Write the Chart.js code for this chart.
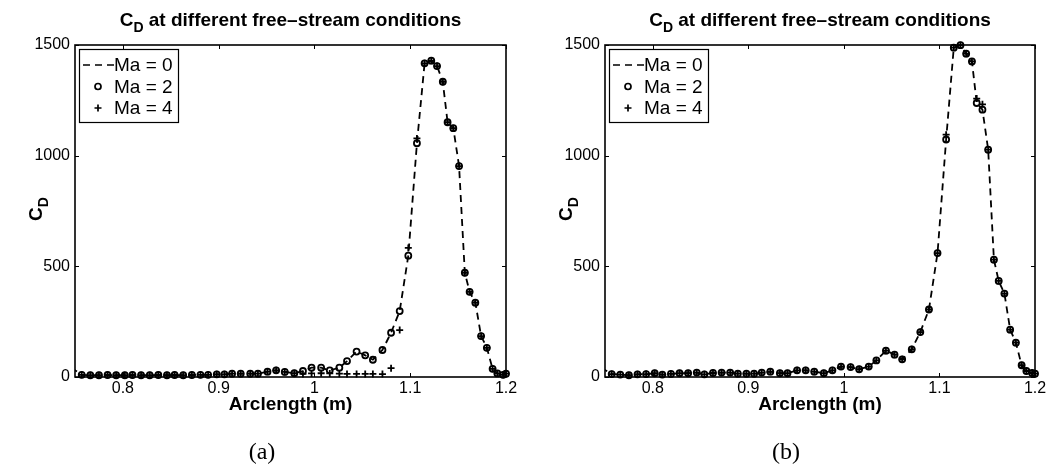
<!DOCTYPE html>
<html>
<head>
<meta charset="utf-8">
<script src="https://cdn.jsdelivr.net/npm/chart.js@4.4.0/dist/chart.umd.min.js"></script>
<style>
  html, body { margin: 0; padding: 0; background: #fff; }
  #wrap { position: relative; width: 1049px; height: 472px; overflow: hidden; }
  #chartA { position: absolute; left: 0; top: 0; }
  #chartB { position: absolute; left: 525px; top: 0; }
</style>
</head>
<body>
<div id="wrap">
  <canvas id="chartA" width="525" height="472"></canvas>
  <canvas id="chartB" width="524" height="472"></canvas>
</div>
<script>
// surface stations along the body (m); the first one sits just left of the plotted range
const arclength = [
  0.746,
  0.757, 0.766, 0.775, 0.784, 0.793, 0.802, 0.810, 0.819, 0.828, 0.837,
  0.846, 0.854, 0.863, 0.872, 0.881, 0.889, 0.898, 0.906, 0.914, 0.923,
  0.933, 0.941, 0.951, 0.960, 0.969, 0.979, 0.988, 0.997, 1.007, 1.016,
  1.026, 1.034, 1.044, 1.053, 1.061, 1.071, 1.080, 1.089, 1.098, 1.107,
  1.115, 1.122, 1.128, 1.134, 1.139, 1.145, 1.151, 1.157, 1.162, 1.168,
  1.174, 1.180, 1.186, 1.191, 1.197, 1.200
];

// (a)
const ma0A = [
  42,
  10, 8, 8, 9, 8, 8, 9, 8, 8, 9,
  8, 9, 8, 9, 10, 10, 12, 12, 15, 15,
  15, 15, 24, 30, 23, 17, 27, 42, 42, 30,
  42, 72, 115, 98, 78, 122, 200, 298, 548, 1056,
  1417, 1429, 1405, 1334, 1151, 1124, 953, 471, 385, 336,
  185, 132, 37, 16, 10, 15
];
const ma2A = [
  42,
  10, 8, 8, 9, 8, 8, 9, 8, 8, 9,
  8, 9, 8, 9, 10, 10, 12, 12, 15, 15,
  15, 15, 24, 30, 23, 17, 27, 42, 42, 30,
  42, 72, 115, 98, 78, 122, 200, 298, 548, 1056,
  1417, 1429, 1405, 1334, 1151, 1124, 953, 471, 385, 336,
  185, 132, 37, 16, 10, 15
];
const ma4A = [
  42,
  10, 8, 8, 9, 8, 8, 9, 8, 8, 9,
  8, 9, 8, 9, 10, 10, 12, 12, 15, 15,
  15, 15, 24, 30, 23, 17, 14, 16, 17, 16,
  15, 14, 14, 14, 14, 13, 40, 212, 583, 1078,
  1417, 1429, 1405, 1334, 1151, 1124, 953, 471, 385, 336,
  185, 132, 37, 16, 10, 15
];

// (b)
const ma0B = [
  42,
  13, 11, 8, 12, 13, 17, 11, 14, 17, 17,
  20, 12, 18, 20, 20, 15, 15, 15, 20, 24,
  17, 17, 30, 30, 24, 17, 30, 47, 45, 35,
  47, 75, 119, 101, 80, 125, 203, 305, 560, 1073,
  1488, 1499, 1461, 1426, 1238, 1208, 1027, 530, 434, 377,
  214, 155, 53, 27, 18, 15
];
const ma2B = [
  42,
  13, 11, 8, 12, 13, 17, 11, 14, 17, 17,
  20, 12, 18, 20, 20, 15, 15, 15, 20, 24,
  17, 17, 30, 30, 24, 17, 30, 47, 45, 35,
  47, 75, 119, 101, 80, 125, 203, 305, 560, 1073,
  1488, 1499, 1461, 1426, 1238, 1208, 1027, 530, 434, 377,
  214, 155, 53, 27, 18, 15
];
const ma4B = [
  42,
  13, 11, 8, 12, 13, 17, 11, 14, 17, 17,
  20, 12, 18, 20, 20, 15, 15, 15, 20, 24,
  17, 17, 30, 30, 24, 17, 30, 47, 45, 35,
  47, 75, 119, 101, 80, 125, 203, 305, 560, 1095,
  1488, 1499, 1461, 1426, 1258, 1232, 1027, 530, 434, 377,
  214, 155, 53, 27, 18, 15
];

const xTicks = [0.8, 0.9, 1, 1.1, 1.2];
const yTicks = [0, 500, 1000, 1500];
const legendLabels = ['Ma = 0', 'Ma = 2', 'Ma = 4'];

const FONT = '"Liberation Sans", Arial, Helvetica, sans-serif';
const SERIF = '"Liberation Serif", "Times New Roman", serif';

function series(ys) {
  return arclength.map((x, i) => ({ x: x, y: ys[i] }));
}

// C with a lowered D, as used in the title and the y label
function drawCD(ctx, rest, cx, base, big, small, drop) {
  ctx.font = big;
  const wC = ctx.measureText('C').width;
  const wR = rest ? ctx.measureText(rest).width : 0;
  ctx.font = small;
  const wD = ctx.measureText('D').width;
  let x = cx - (wC + wD + wR) / 2;
  ctx.textAlign = 'left';
  ctx.textBaseline = 'alphabetic';
  ctx.font = big;
  ctx.fillText('C', x, base);
  x += wC;
  ctx.font = small;
  ctx.fillText('D', x, base + drop);
  x += wD;
  if (rest) {
    ctx.font = big;
    ctx.fillText(rest, x, base);
  }
}

// box around the axes with inward tick marks on all four sides
const frame = {
  id: 'frame',
  afterDatasetsDraw(chart) {
    const { ctx, chartArea: a, scales } = chart;
    const tick = 4;
    ctx.save();
    ctx.strokeStyle = '#000';
    ctx.lineWidth = 1;
    ctx.beginPath();
    xTicks.forEach(v => {
      const px = Math.round(scales.x.getPixelForValue(v)) + 0.5;
      ctx.moveTo(px, a.bottom); ctx.lineTo(px, a.bottom - tick);
      ctx.moveTo(px, a.top); ctx.lineTo(px, a.top + tick);
    });
    yTicks.forEach(v => {
      const py = Math.round(scales.y.getPixelForValue(v)) + 0.5;
      ctx.moveTo(a.left, py); ctx.lineTo(a.left + tick, py);
      ctx.moveTo(a.right, py); ctx.lineTo(a.right - tick, py);
    });
    ctx.stroke();
    ctx.lineWidth = 1.6;
    ctx.strokeRect(a.left, a.top, a.right - a.left, a.bottom - a.top);
    ctx.restore();
  }
};

const headings = {
  id: 'headings',
  afterDraw(chart, args, opts) {
    const { ctx, chartArea: a } = chart;
    ctx.save();
    ctx.fillStyle = '#000';
    drawCD(ctx, ' at different free\u2013stream conditions', (a.left + a.right) / 2, 26,
      'bold 19px ' + FONT, 'bold 14px ' + FONT, 6);

    // y axis label, reading upwards
    ctx.translate(a.left - 33, 209);
    ctx.rotate(-Math.PI / 2);
    drawCD(ctx, '', 0, 0, 'bold 19px ' + FONT, 'bold 14px ' + FONT, 6);
    ctx.restore();

    ctx.save();
    ctx.fillStyle = '#000';
    ctx.font = '24px ' + SERIF;
    ctx.textAlign = 'center';
    ctx.textBaseline = 'middle';
    ctx.fillText(opts.caption, opts.captionX, 453);
    ctx.restore();
  }
};

const legendBox = {
  id: 'legendBox',
  afterDraw(chart) {
    const { ctx, chartArea: a } = chart;
    const x0 = a.left + 4, y0 = a.top + 4, w = 99, h = 73;
    ctx.save();
    ctx.fillStyle = '#fff';
    ctx.fillRect(x0, y0, w, h);
    ctx.strokeStyle = '#000';
    ctx.lineWidth = 1.2;
    ctx.strokeRect(x0 + 0.5, y0 + 0.5, w, h);
    ctx.font = '19px ' + FONT;
    ctx.textBaseline = 'middle';
    ctx.textAlign = 'left';
    chart.data.datasets.forEach((ds, i) => {
      const cy = y0 + 16 + i * 21.5;
      const mx = x0 + 19;
      ctx.strokeStyle = '#000';
      ctx.lineWidth = 1.7;
      ctx.beginPath();
      if (ds.pointStyle === 'circle') {
        ctx.arc(mx, cy, ds.pointRadius, 0, Math.PI * 2);
      } else if (ds.pointStyle === 'cross') {
        ctx.moveTo(mx - ds.pointRadius, cy); ctx.lineTo(mx + ds.pointRadius, cy);
        ctx.moveTo(mx, cy - ds.pointRadius); ctx.lineTo(mx, cy + ds.pointRadius);
      } else {
        ctx.setLineDash(ds.borderDash);
        ctx.moveTo(x0 + 4, cy); ctx.lineTo(x0 + 35, cy);
      }
      ctx.stroke();
      ctx.setLineDash([]);
      ctx.fillStyle = '#000';
      ctx.fillText(ds.label, x0 + 35, cy + 1);
    });
    ctx.restore();
  }
};

function makePanel(id, ma0, ma2, ma4, left, right, caption, captionX) {
  const canvas = document.getElementById(id);
  const clip = { left: 0, top: 8, right: 8, bottom: 8 };
  return new Chart(canvas, {
    type: 'line',
    data: {
      datasets: [
        {
          label: legendLabels[0], data: series(ma0),
          borderColor: '#000', borderWidth: 1.8, borderDash: [7, 5],
          pointRadius: 0, pointHoverRadius: 0, tension: 0, order: 3, clip: clip
        },
        {
          label: legendLabels[1], data: series(ma2), showLine: false,
          pointStyle: 'circle', pointRadius: 3, pointBorderWidth: 1.8,
          pointBorderColor: '#000', pointBackgroundColor: 'rgba(0,0,0,0)',
          order: 2, clip: clip
        },
        {
          label: legendLabels[2], data: series(ma4), showLine: false,
          pointStyle: 'cross', pointRadius: 3.5, pointBorderWidth: 1.8,
          pointBorderColor: '#000', order: 1, clip: clip
        }
      ]
    },
    options: {
      responsive: false,
      animation: false,
      devicePixelRatio: 1,
      events: [],
      layout: { padding: { left: 0, top: 45, right: canvas.width - right, bottom: 0 } },
      plugins: {
        legend: { display: false },
        tooltip: { enabled: false },
        headings: { caption: caption, captionX: captionX }
      },
      scales: {
        x: {
          type: 'linear', min: 0.75, max: 1.2,
          grid: { display: false, drawTicks: false }, border: { display: false },
          afterBuildTicks: s => { s.ticks = xTicks.map(v => ({ value: v })); },
          afterFit: s => { s.height = 95; },
          ticks: {
            color: '#000', padding: 2, maxRotation: 0,
            font: { family: FONT, size: 16 },
            callback: v => String(v)
          },
          title: {
            display: true, text: 'Arclength (m)', color: '#000',
            font: { family: FONT, size: 19, weight: 'bold' },
            padding: { top: 0, bottom: 56 }
          }
        },
        y: {
          type: 'linear', min: 0, max: 1500,
          grid: { display: false, drawTicks: false }, border: { display: false },
          afterBuildTicks: s => { s.ticks = yTicks.map(v => ({ value: v })); },
          afterFit: s => { s.width = left; },
          ticks: {
            color: '#000', padding: 5,
            font: { family: FONT, size: 16 },
            callback: v => String(v)
          }
        }
      }
    },
    plugins: [frame, headings, legendBox]
  });
}

makePanel('chartA', ma0A, ma2A, ma4A, 75, 506, '(a)', 262);
makePanel('chartB', ma0B, ma2B, ma4B, 80, 510, '(b)', 261);
</script>
</body>
</html>
